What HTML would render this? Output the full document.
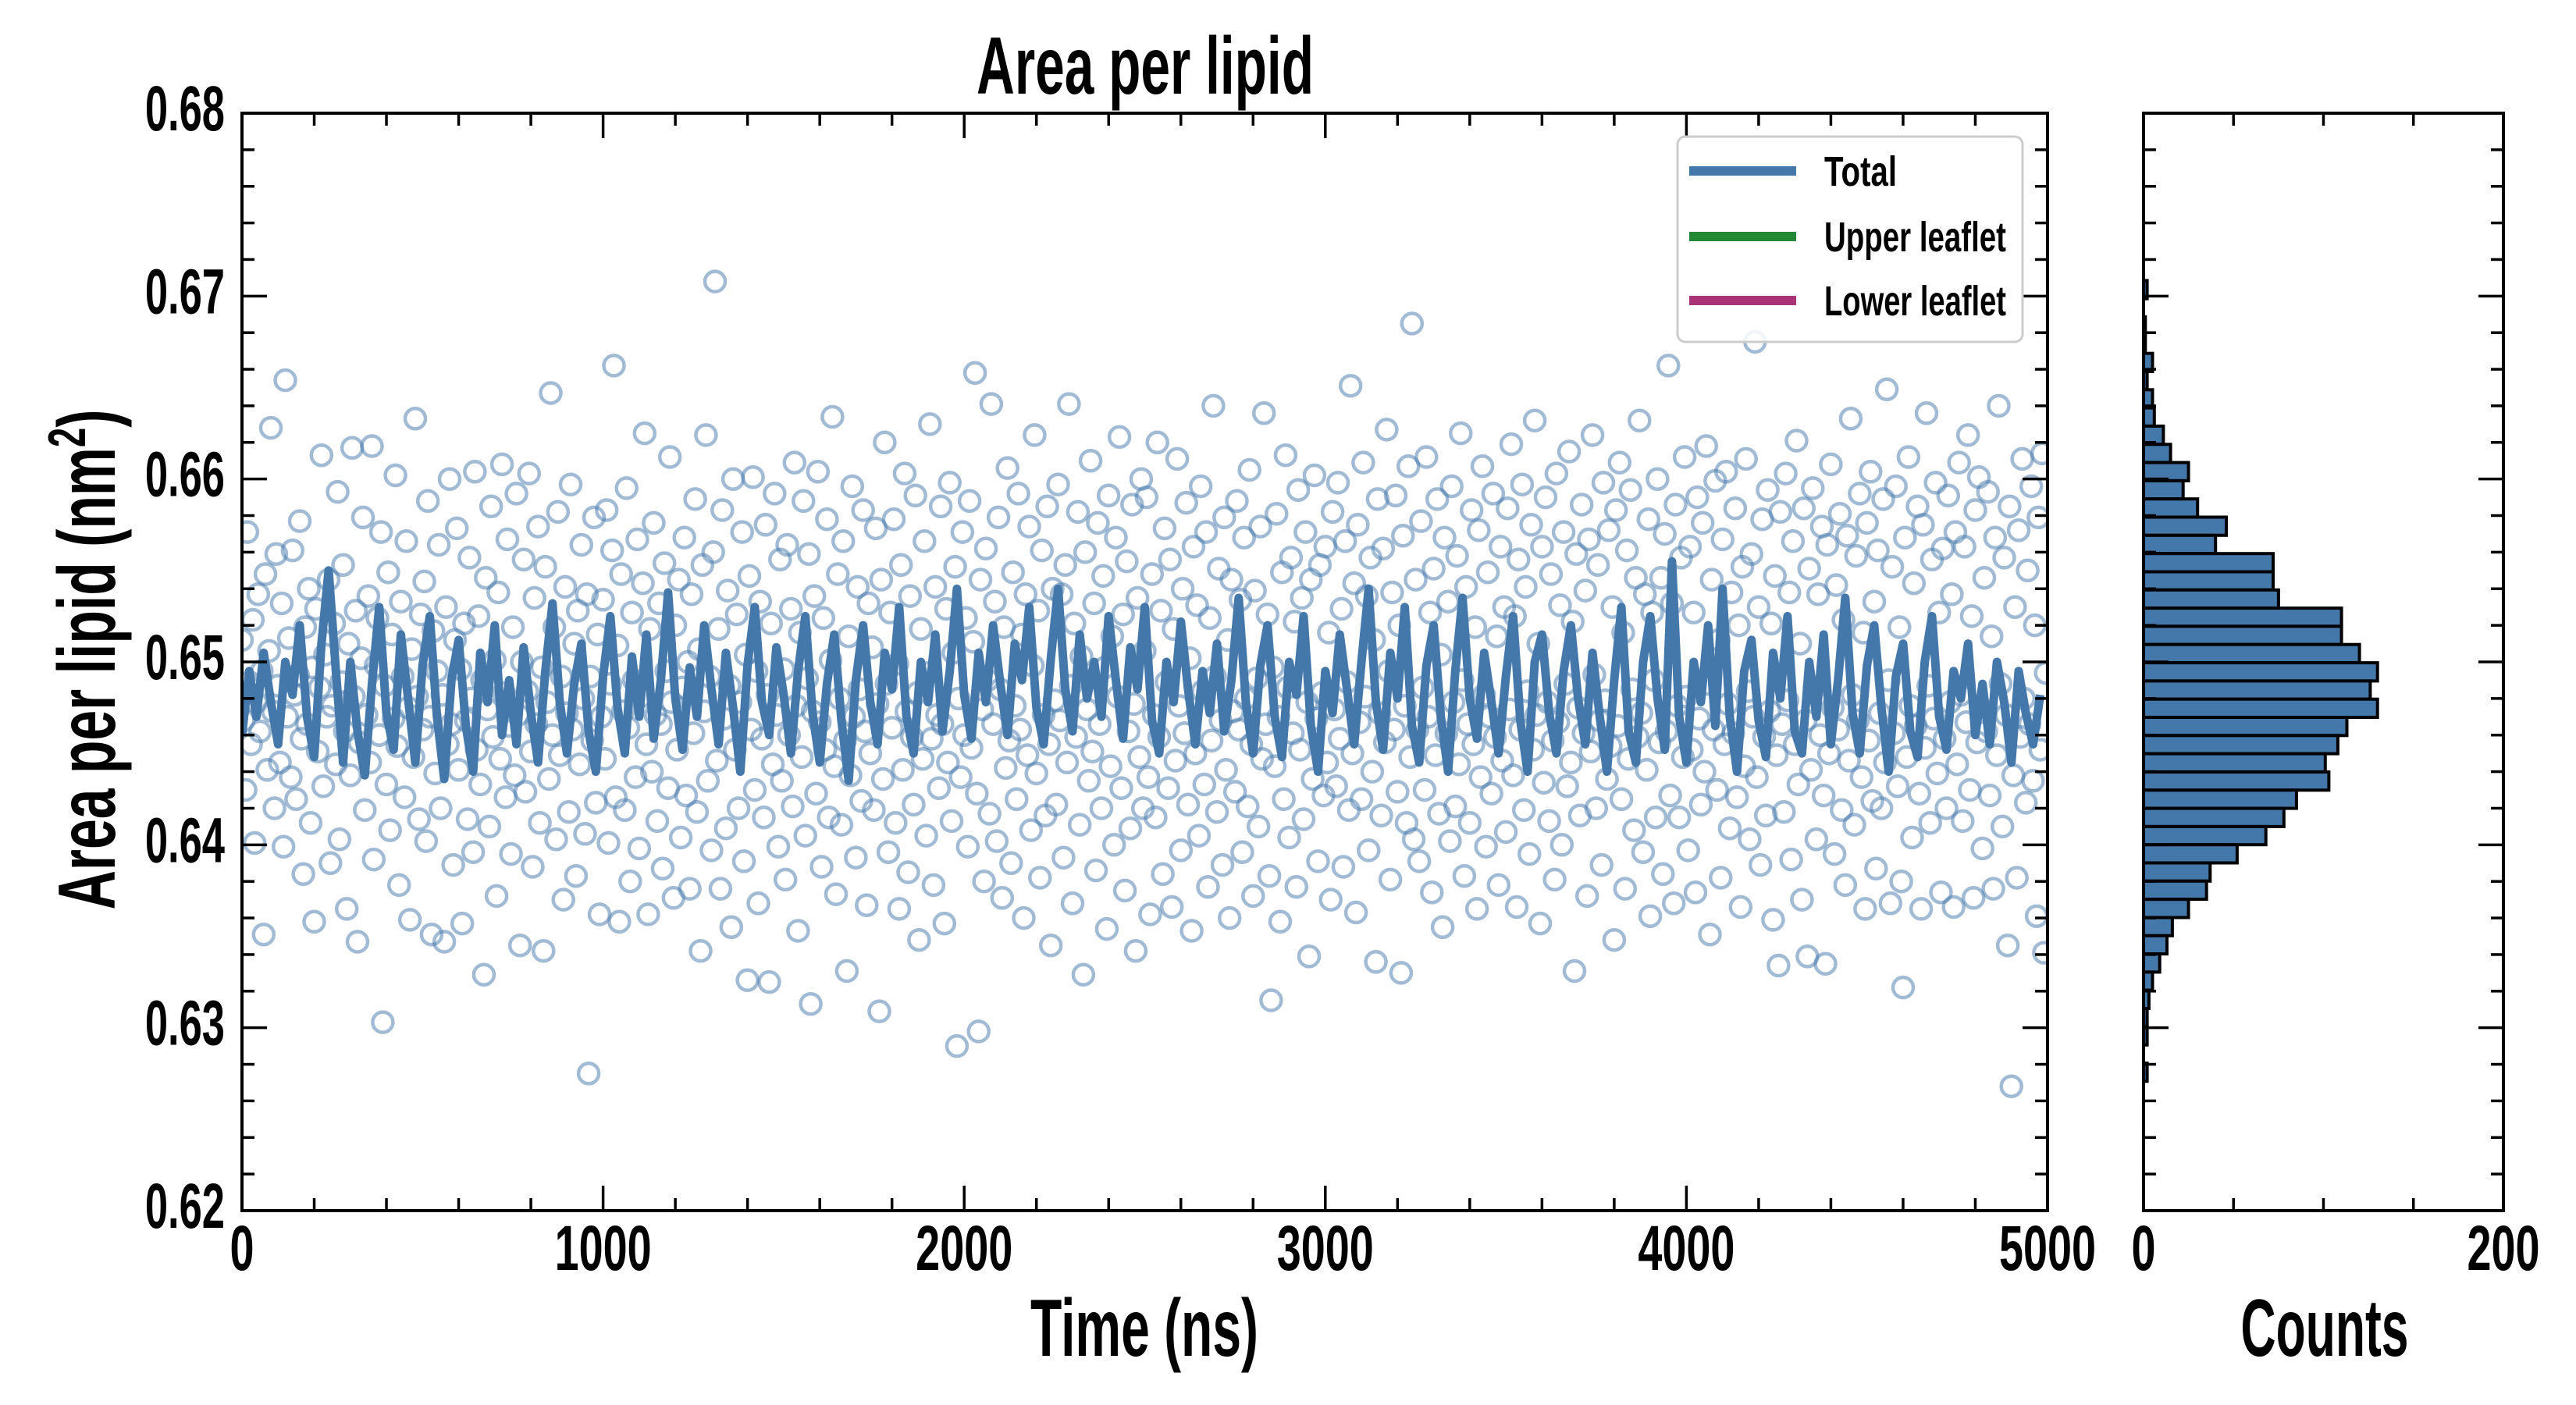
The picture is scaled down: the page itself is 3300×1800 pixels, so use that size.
<!DOCTYPE html>
<html><head><meta charset="utf-8"><style>
html,body{margin:0;padding:0;background:#fff;}
svg{display:block;}
text{font-family:"Liberation Sans Narrow","Liberation Sans",sans-serif;font-weight:bold;fill:#000;}
</style></head><body>
<svg id="chart" width="3300" height="1800" viewBox="0 0 3300 1800" xmlns="http://www.w3.org/2000/svg">
<rect x="0" y="0" width="3300" height="1800" fill="#fff"/>
<g id="main"></g>
<g id="hist"></g>
<text x="1467" y="120" text-anchor="middle" font-size="104" textLength="432" lengthAdjust="spacingAndGlyphs">Area per lipid</text>
<text x="1466" y="1737" text-anchor="middle" font-size="104" textLength="292" lengthAdjust="spacingAndGlyphs">Time (ns)</text>
<text x="2978" y="1737" text-anchor="middle" font-size="104" textLength="215" lengthAdjust="spacingAndGlyphs">Counts</text>
<text transform="translate(147,845) rotate(-90) scale(0.67,1)" text-anchor="middle" font-size="104">Area per lipid (nm<tspan font-size="68" dy="-38">2</tspan><tspan dy="38">)</tspan></text>
<g>
<rect x="2149" y="175" width="442" height="263" rx="10" fill="#fff" fill-opacity="0.85" stroke="#cccccc" stroke-width="3"/>
<line x1="2164" y1="219" x2="2301" y2="219" stroke="#4477aa" stroke-width="12"/>
<text x="2337" y="238" font-size="54" textLength="93" lengthAdjust="spacingAndGlyphs">Total</text>
<line x1="2164" y1="303" x2="2301" y2="303" stroke="#228833" stroke-width="12"/>
<text x="2337" y="322" font-size="54" textLength="233" lengthAdjust="spacingAndGlyphs">Upper leaflet</text>
<line x1="2164" y1="385" x2="2301" y2="385" stroke="#aa3377" stroke-width="12"/>
<text x="2337" y="404" font-size="54" textLength="233" lengthAdjust="spacingAndGlyphs">Lower leaflet</text>
</g>
</svg>
<script>
// ---- data ----
const sampleInterval = 5;      // ns between scatter samples
const lineInterval = 20;       // ns between smoothed line samples
const scatterValues = [
.6512,.6468,.6430,.6571,.6489,.6455,.6523,.6401,.6478,.6537,.6462,.6495,.6351,.6548,.6441,.6506,.6628,.6473,.6420,.6559,.6487,.6445,.6532,.6399,.6654,.6470,.6513,.6437,.6561,.6482,.6425,.6493,.6577,.6458,.6384,.6519,.6466,.6540,.6412,.6497,.6358,.6529,.6451,.6486,.6613,.6432,.6504,.6470,.6545,.6390,
.6476,.6521,.6444,.6593,.6403,.6489,.6553,.6462,.6365,.6510,.6438,.6617,.6481,.6528,.6347,.6456,.6502,.6579,.6419,.6471,.6536,.6445,.6618,.6392,.6498,.6524,.6460,.6571,.6303,.6487,.6433,.6549,.6408,.6515,.6469,.6602,.6454,.6378,.6533,.6492,.6426,.6566,.6475,.6359,.6507,.6448,.6633,.6481,.6414,.6526,
.6463,.6544,.6402,.6588,.6470,.6351,.6517,.6439,.6495,.6564,.6420,.6482,.6347,.6530,.6455,.6600,.6466,.6389,.6512,.6573,.6441,.6496,.6357,.6521,.6468,.6414,.6557,.6480,.6396,.6604,.6452,.6525,.6433,.6490,.6329,.6546,.6474,.6410,.6585,.6459,.6501,.6372,.6538,.6447,.6608,.6483,.6426,.6567,.6465,.6395,
.6519,.6438,.6592,.6471,.6345,.6500,.6556,.6429,.6484,.6603,.6451,.6388,.6535,.6466,.6574,.6412,.6497,.6342,.6552,.6478,.6436,.6647,.6460,.6519,.6403,.6582,.6449,.6492,.6370,.6541,.6472,.6418,.6597,.6463,.6510,.6383,.6528,.6444,.6564,.6480,.6406,.6537,.6275,.6492,.6457,.6579,.6423,.6515,.6362,.6470,
.6534,.6447,.6583,.6401,.6488,.6561,.6662,.6426,.6509,.6358,.6548,.6473,.6419,.6595,.6464,.6380,.6527,.6490,.6437,.6567,.6398,.6481,.6543,.6625,.6455,.6362,.6518,.6440,.6576,.6471,.6413,.6532,.6466,.6387,.6554,.6495,.6431,.6612,.6478,.6371,.6520,.6452,.6545,.6404,.6486,.6568,.6427,.6500,.6376,.6537,
.6461,.6589,.6418,.6507,.6342,.6553,.6473,.6624,.6435,.6492,.6397,.6560,.6708,.6446,.6518,.6376,.6583,.6469,.6409,.6539,.6487,.6355,.6600,.6452,.6526,.6420,.6478,.6571,.6391,.6504,.6326,.6547,.6463,.6601,.6430,.6495,.6368,.6533,.6458,.6415,.6575,.6482,.6325,.6521,.6444,.6592,.6471,.6399,.6556,.6435,
.6496,.6381,.6564,.6460,.6529,.6421,.6609,.6476,.6353,.6516,.6448,.6588,.6405,.6491,.6559,.6313,.6473,.6536,.6428,.6604,.6467,.6388,.6524,.6452,.6578,.6415,.6501,.6634,.6443,.6373,.6548,.6480,.6411,.6566,.6457,.6331,.6514,.6438,.6596,.6470,.6393,.6541,.6485,.6424,.6583,.6462,.6367,.6532,.6450,.6508,
.6419,.6573,.6477,.6309,.6545,.6436,.6620,.6488,.6396,.6527,.6464,.6578,.6412,.6499,.6365,.6553,.6441,.6603,.6473,.6385,.6536,.6459,.6422,.6591,.6483,.6348,.6518,.6447,.6566,.6405,.6494,.6630,.6458,.6378,.6541,.6471,.6431,.6585,.6466,.6357,.6529,.6445,.6598,.6413,.6505,.6552,.6290,.6480,.6437,.6571,
.6460,.6524,.6399,.6588,.6453,.6511,.6658,.6428,.6298,.6545,.6474,.6380,.6562,.6490,.6417,.6641,.6466,.6533,.6402,.6579,.6485,.6371,.6519,.6442,.6606,.6457,.6390,.6549,.6476,.6425,.6592,.6463,.6515,.6360,.6537,.6449,.6574,.6408,.6498,.6624,.6439,.6528,.6382,.6561,.6471,.6416,.6585,.6455,.6345,.6540,
.6479,.6422,.6597,.6468,.6537,.6393,.6553,.6445,.6641,.6487,.6368,.6521,.6459,.6582,.6411,.6503,.6329,.6560,.6474,.6435,.6610,.6451,.6532,.6386,.6576,.6466,.6420,.6547,.6497,.6354,.6591,.6443,.6514,.6400,.6568,.6481,.6623,.6431,.6526,.6375,.6555,.6462,.6409,.6586,.6477,.6342,.6535,.6448,.6600,.6420,
.6506,.6590,.6437,.6362,.6548,.6471,.6415,.6620,.6459,.6528,.6384,.6573,.6489,.6431,.6556,.6366,.6518,.6446,.6611,.6476,.6397,.6540,.6461,.6587,.6422,.6502,.6353,.6563,.6450,.6531,.6405,.6596,.6484,.6433,.6571,.6377,.6524,.6457,.6640,.6492,.6418,.6551,.6468,.6389,.6579,.6441,.6512,.6360,.6545,.6473,
.6429,.6588,.6463,.6534,.6396,.6568,.6480,.6421,.6605,.6455,.6372,.6539,.6491,.6410,.6574,.6447,.6636,.6466,.6526,.6383,.6315,.6497,.6443,.6581,.6470,.6358,.6549,.6425,.6613,.6486,.6404,.6557,.6461,.6522,.6377,.6594,.6452,.6535,.6414,.6571,.6478,.6339,.6545,.6436,.6602,.6469,.6391,.6553,.6483,.6427,
.6563,.6445,.6516,.6370,.6582,.6474,.6432,.6598,.6458,.6529,.6388,.6566,.6489,.6419,.6651,.6450,.6543,.6363,.6575,.6467,.6425,.6609,.6481,.6536,.6397,.6557,.6440,.6512,.6336,.6589,.6472,.6416,.6562,.6456,.6627,.6495,.6381,.6538,.6463,.6591,.6429,.6520,.6330,.6569,.6476,.6412,.6607,.6448,.6685,.6403,
.6545,.6463,.6391,.6577,.6486,.6430,.6612,.6470,.6527,.6374,.6551,.6449,.6589,.6417,.6504,.6355,.6568,.6461,.6533,.6402,.6596,.6478,.6421,.6558,.6444,.6625,.6490,.6383,.6541,.6466,.6412,.6583,.6455,.6519,.6365,.6572,.6437,.6607,.6482,.6399,.6549,.6470,.6428,.6592,.6459,.6514,.6378,.6563,.6446,.6530,
.6407,.6584,.6474,.6619,.6438,.6525,.6366,.6556,.6463,.6597,.6419,.6541,.6484,.6395,.6575,.6452,.6632,.6471,.6510,.6357,.6563,.6434,.6590,.6478,.6413,.6548,.6457,.6381,.6603,.6467,.6531,.6400,.6571,.6488,.6432,.6615,.6445,.6522,.6331,.6559,.6475,.6416,.6586,.6461,.6539,.6372,.6567,.6451,.6624,.6493,
.6420,.6553,.6468,.6389,.6598,.6479,.6436,.6572,.6454,.6530,.6348,.6583,.6465,.6609,.6425,.6516,.6376,.6561,.6447,.6594,.6485,.6408,.6546,.6459,.6632,.6472,.6396,.6537,.6441,.6578,.6361,.6527,.6490,.6415,.6600,.6456,.6546,.6384,.6570,.6462,.6662,.6427,.6532,.6368,.6586,.6476,.6415,.6557,.6448,.6612,
.6481,.6397,.6563,.6452,.6527,.6374,.6590,.6469,.6422,.6576,.6440,.6618,.6488,.6351,.6545,.6463,.6599,.6430,.6512,.6382,.6567,.6455,.6604,.6477,.6409,.6538,.6461,.6584,.6426,.6520,.6366,.6552,.6443,.6611,.6484,.6403,.6559,.6470,.6675,.6437,.6530,.6389,.6578,.6459,.6416,.6594,.6473,.6521,.6359,.6547,
.6449,.6334,.6582,.6466,.6418,.6603,.6479,.6538,.6392,.6566,.6455,.6621,.6433,.6510,.6370,.6584,.6468,.6339,.6551,.6441,.6595,.6486,.6403,.6537,.6460,.6574,.6427,.6335,.6564,.6450,.6608,.6475,.6395,.6542,.6463,.6581,.6419,.6523,.6378,.6569,.6446,.6633,.6482,.6411,.6558,.6468,.6592,.6437,.6516,.6365,
.6576,.6457,.6604,.6424,.6533,.6387,.6561,.6472,.6420,.6589,.6445,.6649,.6490,.6368,.6552,.6461,.6596,.6432,.6519,.6380,.6322,.6568,.6448,.6612,.6476,.6404,.6543,.6465,.6585,.6428,.6365,.6575,.6453,.6636,.6487,.6412,.6556,.6469,.6598,.6439,.6527,.6374,.6562,.6458,.6420,.6591,.6478,.6537,.6366,.6571,
.6444,.6609,.6482,.6413,.6563,.6467,.6624,.6430,.6525,.6371,.6583,.6456,.6601,.6475,.6398,.6546,.6462,.6593,.6427,.6514,.6376,.6568,.6449,.6640,.6488,.6410,.6557,.6471,.6345,.6585,.6268,.6438,.6530,.6382,.6572,.6459,.6611,.6480,.6423,.6550,.6466,.6596,.6435,.6520,.6361,.6579,.6452,.6614,.6341,.6494
];
const totalLineValues = [
.6460,.6495,.6470,.6505,.6478,.6455,.6500,.6482,.6520,.6470,.6448,.6510,.6550,.6495,.6445,.6500,.6462,.6438,.6488,.6530,.6472,.6452,.6515,.6480,.6445,.6498,.6525,.6470,.6436,.6490,.6512,.6465,.6440,.6505,.6478,.6520,.6460,.6490,.6455,.6508,.6472,.6445,.6495,.6532,.6478,.6450,.6488,.6510,.6462,.6440,
.6492,.6525,.6475,.6450,.6503,.6470,.6515,.6458,.6490,.6538,.6480,.6452,.6497,.6470,.6520,.6485,.6455,.6505,.6475,.6440,.6498,.6530,.6478,.6460,.6508,.6482,.6450,.6495,.6525,.6472,.6445,.6488,.6515,.6468,.6435,.6490,.6520,.6478,.6455,.6505,.6485,.6530,.6470,.6450,.6500,.6478,.6515,.6462,.6495,.6540,
.6482,.6458,.6505,.6478,.6520,.6488,.6460,.6510,.6490,.6530,.6475,.6455,.6502,.6540,.6485,.6462,.6515,.6480,.6500,.6470,.6525,.6490,.6458,.6508,.6485,.6530,.6468,.6450,.6500,.6478,.6522,.6485,.6455,.6495,.6472,.6510,.6462,.6490,.6535,.6478,.6450,.6498,.6520,.6470,.6448,.6500,.6482,.6525,.6465,.6440,
.6495,.6472,.6515,.6485,.6455,.6500,.6540,.6478,.6452,.6505,.6480,.6530,.6465,.6445,.6498,.6520,.6470,.6440,.6495,.6535,.6480,.6458,.6505,.6478,.6450,.6492,.6525,.6468,.6440,.6500,.6515,.6472,.6450,.6495,.6520,.6480,.6455,.6505,.6470,.6440,.6490,.6530,.6462,.6445,.6500,.6525,.6480,.6452,.6555,.6470,
.6445,.6500,.6478,.6520,.6465,.6540,.6470,.6440,.6495,.6512,.6468,.6448,.6505,.6480,.6525,.6462,.6450,.6500,.6470,.6515,.6455,.6490,.6535,.6472,.6450,.6498,.6520,.6475,.6440,.6492,.6510,.6462,.6448,.6500,.6525,.6470,.6452,.6495,.6480,.6510,.6460,.6488,.6455,.6500,.6478,.6445,.6495,.6472,.6455,.6482
];
const histBinTop = 0.67085;     // upper edge of first bin (nm^2)
const histBinWidth = 0.000995;  // bin width (nm^2)
const histCounts = [2,0,1,1,5,2,5,6,11,15,25,22,30,46,40,72,72,75,110,110,120,130,126,130,113,108,101,103,85,78,68,52,37,35,25,16,13,9,5,3,2,2,0,2];
const xTickLabels = ["0","1000","2000","3000","4000","5000"];
const yTickLabels = ["0.62","0.63","0.64","0.65","0.66","0.67","0.68"];
const histTickLabels = ["0","200"];

// ---- axes ----
const NS = "http://www.w3.org/2000/svg";
const L = 310, R = 2623, T = 145, B = 1551;
const HL = 2746, HR = 3207;
const xMin = 0, xMax = 5000, yMin = 0.62, yMax = 0.68, cMax = 200;
function xs(t){ return L + (t - xMin) / (xMax - xMin) * (R - L); }
function ys(v){ return B - (v - yMin) / (yMax - yMin) * (B - T); }
function cs(c){ return HL + c / cMax * (HR - HL); }
function mk(tag, attrs, parent){
  const e = document.createElementNS(NS, tag);
  for (const k in attrs) e.setAttribute(k, attrs[k]);
  parent.appendChild(e);
  return e;
}
const main = document.getElementById('main');
const hist = document.getElementById('hist');

const defs = mk('defs', {}, main);
const cp = mk('clipPath', {id: 'clipMain'}, defs);
mk('rect', {x: L, y: T, width: R - L, height: B - T}, cp);

// scatter
const sg = mk('g', {'clip-path': 'url(#clipMain)', fill: 'none', stroke: '#4477aa', 'stroke-opacity': '0.5', 'stroke-width': '4.5'}, main);


scatterValues.forEach((v, i) => {
  const c = mk('circle', {cx: xs(i * sampleInterval).toFixed(1), cy: ys(v).toFixed(1), r: 13}, sg);
  
  
});

// line
let d = '';
totalLineValues.forEach((v, i) => { d += (i ? 'L' : 'M') + xs(i * lineInterval).toFixed(1) + ',' + ys(v).toFixed(1); });
const ln = mk('path', {d: d, fill: 'none', stroke: '#4477aa', 'stroke-width': '11', 'stroke-linejoin': 'round', 'clip-path': 'url(#clipMain)'}, main);



// histogram bars
histCounts.forEach((c, k) => {
  const top = histBinTop - k * histBinWidth;
  const y1 = ys(top), y2 = ys(top - histBinWidth);
  if (c <= 0) return;
  const b = mk('rect', {x: HL, y: y1.toFixed(1), width: (cs(c) - HL).toFixed(1), height: (y2 - y1).toFixed(1), fill: '#4477aa', stroke: '#000', 'stroke-width': '4'}, hist);
  
  
});

function tick(parent, x1, y1, x2, y2){
  const t = mk('line', {x1: x1, y1: y1, x2: x2, y2: y2, stroke: '#000', 'stroke-width': '3.5'}, parent);
  
  
}
function label(parent, txt, x, y, anchor, size, sx){
  const t = mk('text', {transform: 'translate(' + x + ',' + y + ') scale(' + sx + ',1)', 'text-anchor': anchor, 'font-size': size}, parent);
  t.textContent = txt;
  
  
}
const MAJ = 32, MIN = 16;
for (let t = 0; t <= 5000; t += 200) {
  const len = t % 1000 === 0 ? MAJ : MIN, x = xs(t);
  tick(main, x, B, x, B - len); tick(main, x, T, x, T + len);
}
xTickLabels.forEach(s => label(main, s, xs(+s), 1627, 'middle', 82, 0.68));
for (let k = 0; k <= 30; k++) {
  const v = yMin + k * 0.002, y = ys(v), len = k % 5 === 0 ? MAJ : MIN;
  tick(main, L, y, L + len, y); tick(main, R, y, R - len, y);
  tick(hist, HL, y, HL + len, y); tick(hist, HR, y, HR - len, y);
}
yTickLabels.forEach(s => label(main, s, 288, ys(+s) + 22, 'end', 82, 0.64));
for (let c = 0; c <= 200; c += 50) {
  const len = (c % 200 === 0) ? MAJ : MIN, x = cs(c);
  tick(hist, x, B, x, B - len); tick(hist, x, T, x, T + len);
}
histTickLabels.forEach(s => label(hist, s, cs(+s), 1627, 'middle', 82, 0.68));
const f1 = mk('rect', {x: L, y: T, width: R - L, height: B - T, fill: 'none', stroke: '#000', 'stroke-width': '4'}, main);


const f2 = mk('rect', {x: HL, y: T, width: HR - HL, height: B - T, fill: 'none', stroke: '#000', 'stroke-width': '4'}, hist);


</script>
</body></html>
